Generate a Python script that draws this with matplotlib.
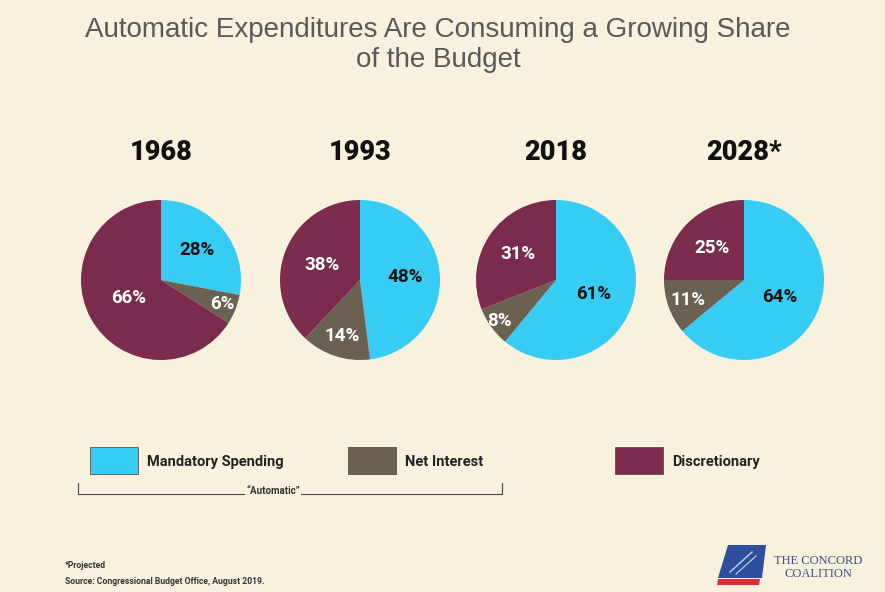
import numpy as np
import matplotlib
matplotlib.use("Agg")
import matplotlib.pyplot as plt
from matplotlib import font_manager
from matplotlib.patches import Rectangle, Polygon

# budget shares by year, in percent
years = ["1968", "1993", "2018", "2028*"]
categories = ["Mandatory Spending", "Net Interest", "Discretionary"]
mandatory = [28, 48, 61, 64]
net_interest = [6, 14, 8, 11]
discretionary = [66, 38, 31, 25]

colors = ["#37ccf3", "#6a6152", "#7b2c4e"]
label_colors = ["#111111", "white", "white"]
bg = "#f8f1dd"

# how far out from the centre each percentage sits (fraction of radius)
label_radius = [[0.58, 0.82, 0.46],
                [0.57, 0.74, 0.51],
                [0.50, 0.88, 0.58],
                [0.50, 0.75, 0.56]]

installed = {f.name for f in font_manager.fontManager.ttflist}
bold_face = "Roboto" if "Roboto" in installed else "DejaVu Sans"
sans = "Liberation Sans" if "Liberation Sans" in installed else "DejaVu Sans"
serif = "Liberation Serif" if "Liberation Serif" in installed else "DejaVu Serif"

W, H = 885, 592
fig = plt.figure(figsize=(W / 100, H / 100), dpi=100, facecolor=bg)

canvas = fig.add_axes([0, 0, 1, 1])
canvas.set_xlim(0, W)
canvas.set_ylim(H, 0)
canvas.axis("off")
canvas.set_facecolor(bg)

canvas.text(438, 30, "Automatic Expenditures Are Consuming a Growing Share",
            ha="center", va="center", fontsize=20, color="#595959", family=sans)
canvas.text(438, 60, "of the Budget",
            ha="center", va="center", fontsize=20, color="#595959", family=sans)

centers = [161, 360, 556, 744]
r = 80
cy = 280

for i, year in enumerate(years):
    cx = centers[i]
    canvas.text(cx, 152, year, ha="center", va="center", fontsize=19.5,
                fontweight="black", color="#111111", family=bold_face)
    ax = fig.add_axes([(cx - r) / W, 1 - (cy + r) / H, 2 * r / W, 2 * r / H])
    vals = [mandatory[i], net_interest[i], discretionary[i]]
    wedges, _ = ax.pie(vals, colors=colors, startangle=90, counterclock=False,
                       radius=1, wedgeprops=dict(linewidth=0))
    ax.set_xlim(-1, 1)
    ax.set_ylim(-1, 1)
    ax.set_aspect("equal")
    for j, w in enumerate(wedges):
        mid = np.deg2rad((w.theta1 + w.theta2) / 2)
        d = label_radius[i][j]
        ax.text(d * np.cos(mid), d * np.sin(mid), f"{vals[j]}%",
                ha="center", va="center", fontsize=13.5, fontweight="bold",
                color=label_colors[j], family=bold_face)

# legend boxes
legend_x = [90, 348, 615]
for x, c, name in zip(legend_x, colors, categories):
    canvas.add_patch(Rectangle((x, 447), 48, 27, facecolor=c,
                               edgecolor="#5a5040", linewidth=0.6))
    canvas.text(x + 57, 462, name, ha="left", va="center", fontsize=10.5,
                fontweight="bold", color="#222222", family=bold_face)

# bracket under the two automatic categories
canvas.plot([78, 78, 502, 502], [483, 494, 494, 483], color="#444444", lw=0.8)
canvas.text(273, 491, "\u201cAutomatic\u201d", ha="center", va="center",
            fontsize=7, fontweight="bold", color="#333333", family=bold_face,
            bbox=dict(facecolor=bg, edgecolor="none", pad=0.5))

canvas.text(65, 565, "*Projected", ha="left", va="center", fontsize=6.2,
            fontweight="bold", color="#333333", family=bold_face)
canvas.text(65, 582, "Source: Congressional Budget Office, August 2019.",
            ha="left", va="center", fontsize=6.2, fontweight="bold",
            color="#333333", family=bold_face)

# organisation mark
canvas.add_patch(Polygon([[728, 545], [766, 545], [762, 578], [718, 578]],
                         closed=True, facecolor="#2d4f9e", edgecolor="none"))
canvas.plot([730, 752], [572, 552], color="#c9d3ea", lw=1.0)
canvas.plot([736, 756], [574, 556], color="#c9d3ea", lw=0.8)
canvas.add_patch(Polygon([[718, 579], [760, 579], [759, 585], [717, 585]],
                         closed=True, facecolor="#d8303a", edgecolor="none"))
canvas.text(818, 561, "THE CONCORD", ha="center", va="center", fontsize=9,
            color="#3f4f7f", family=serif)
canvas.text(818, 574, "COALITION", ha="center", va="center", fontsize=9,
            color="#3f4f7f", family=serif)

fig.savefig("out.png", dpi=100, facecolor=bg)
